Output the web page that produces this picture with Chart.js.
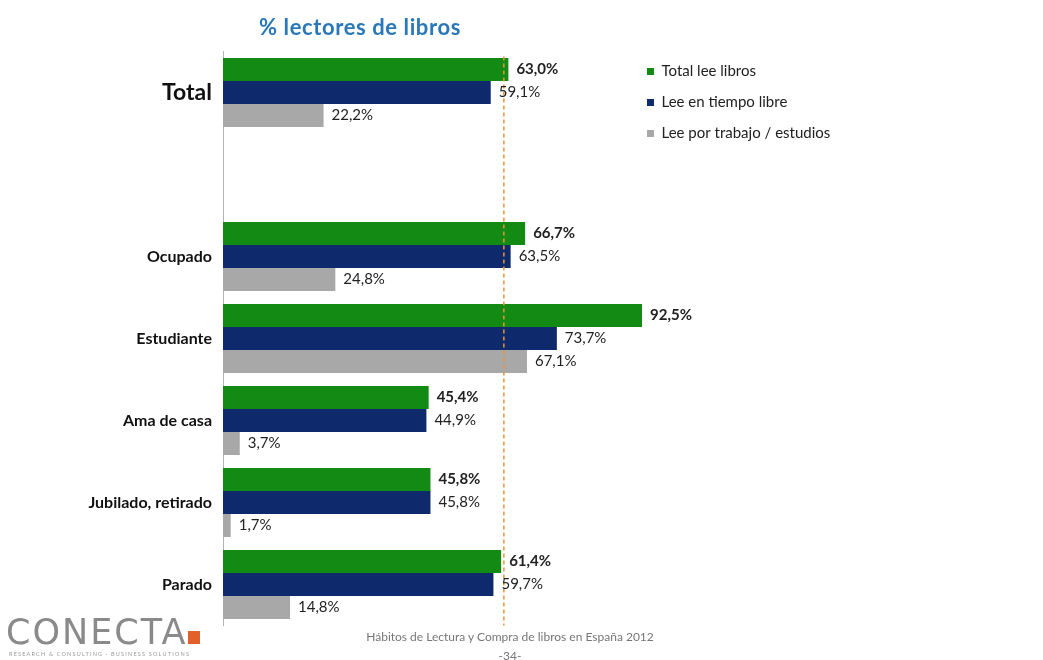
<!DOCTYPE html>
<html>
<head>
<meta charset="utf-8">
<script src="https://cdn.jsdelivr.net/npm/chart.js@4.4.1/dist/chart.umd.min.js"></script>
<style>
  body { margin: 0; background: #fff; font-family: Lato, "Open Sans", sans-serif; }
  .page { position: relative; width: 1043px; height: 660px; overflow: hidden; }
  .chartBox { position: absolute; left: 0; top: 0; width: 1043px; height: 660px; }
  .titulo { position: absolute; left: 0; width: 720px; top: 13px; text-align: center;
            color: #2a78b8; font-weight: 700; font-size: 22px; letter-spacing: 0.6px; }
  .pie { position: absolute; left: 300px; width: 420px; text-align: center; color: #777; font-size: 12px; }
  .logo { position: absolute; left: 6px; top: 612px; color: #8a8a8a; font-size: 35px;
          font-family: "DejaVu Sans", sans-serif; font-weight: 400; letter-spacing: 2px; }
  .logo .sq { display: inline-block; width: 12px; height: 13px; background: #e2612a; margin-left: 1px; }
  .logo-sub { position: absolute; left: 9px; top: 651px; color: #999; font-size: 5.5px; letter-spacing: 1.2px; }
</style>
</head>
<body>
<div class="page">
  <div class="chartBox"><canvas class="grafico"></canvas></div>
  <div class="titulo">% lectores de libros</div>
  <div class="logo">CONECTA<span class="sq"></span></div>
  <div class="logo-sub">RESEARCH &amp; CONSULTING · BUSINESS SOLUTIONS</div>
  <div class="pie" style="top:629px">Hábitos de Lectura y Compra de libros en España 2012</div>
  <div class="pie" style="top:648px">-34-</div>
</div>
<script>
const canvas = document.querySelector('.grafico');

const categorias = ['Total', '', 'Ocupado', 'Estudiante', 'Ama de casa', 'Jubilado, retirado', 'Parado'];
const totalLee = [63.0, null, 66.7, 92.5, 45.4, 45.8, 61.4];
const tiempoLibre = [59.1, null, 63.5, 73.7, 44.9, 45.8, 59.7];
const trabajoEstudios = [22.2, null, 24.8, 67.1, 3.7, 1.7, 14.8];
const referencia = 62;

const formato = (v) => v.toFixed(1).replace('.', ',') + '%';

// etiquetas de valor al final de cada barra + linea de referencia
const etiquetas = {
    id: 'etiquetas',
    afterDatasetsDraw(chart) {
        const ctx = chart.ctx;
        const area = chart.chartArea;
        const xr = chart.scales.x.getPixelForValue(referencia);
        ctx.save();
        ctx.strokeStyle = '#e8943a';
        ctx.lineWidth = 1.5;
        ctx.setLineDash([4, 3]);
        ctx.beginPath();
        ctx.moveTo(xr, area.top + 5);
        ctx.lineTo(xr, area.bottom);
        ctx.stroke();
        ctx.restore();

        ctx.save();
        ctx.textBaseline = 'middle';
        ctx.fillStyle = '#222';
        chart.data.datasets.forEach((ds, i) => {
            ctx.font = (i === 0 ? 'bold ' : '') + '15px Lato, sans-serif';
            chart.getDatasetMeta(i).data.forEach((bar, j) => {
                if (ds.data[j] === null) return;
                ctx.fillText(formato(ds.data[j]), bar.x + 8, bar.y);
            });
        });
        ctx.restore();
    }
};

// mueve la leyenda a la esquina superior derecha
const leyendaSitio = {
    id: 'leyendaSitio',
    afterLayout(chart) {
        const lg = chart.legend;
        const w = lg.right - lg.left;
        const h = lg.bottom - lg.top;
        lg.left = 631; lg.right = lg.left + w;
        lg.top = 48; lg.bottom = lg.top + h;
    }
};

new Chart(canvas, {
    type: 'bar',
    data: {
        labels: categorias,
        datasets: [
            { label: 'Total lee libros', data: totalLee, backgroundColor: '#138a13' },
            { label: 'Lee en tiempo libre', data: tiempoLibre, backgroundColor: '#0e2a6c' },
            { label: 'Lee por trabajo / estudios', data: trabajoEstudios, backgroundColor: '#a8a8a8' }
        ]
    },
    options: {
        indexAxis: 'y',
        responsive: true,
        maintainAspectRatio: false,
        animation: false,
        datasets: { bar: { categoryPercentage: 0.84, barPercentage: 1, skipNull: false } },
        layout: { padding: { left: 0, top: 51.5, bottom: 34.5, right: 367 } },
        scales: {
            x: { min: 0, max: 100, display: false },
            y: {
                grid: { display: false, drawTicks: false },
                border: { display: true, color: '#b5b5b5', width: 1 },
                afterFit: (scale) => { scale.width = 223; },
                ticks: {
                    padding: 11,
                    color: '#111',
                    font: (c) => c.index === 0
                        ? { family: 'Lato', weight: 'bold', size: 23 }
                        : { family: 'Lato', weight: 'bold', size: 16 }
                }
            }
        },
        plugins: {
            title: { display: false },
            tooltip: { enabled: false },
            legend: {
                position: 'chartArea',
                align: 'start',
                labels: {
                    boxWidth: 7,
                    boxHeight: 7,
                    padding: 16,
                    color: '#222',
                    font: { family: 'Lato', size: 15 }
                }
            }
        }
    },
    plugins: [etiquetas, leyendaSitio]
});
</script>
</body>
</html>
